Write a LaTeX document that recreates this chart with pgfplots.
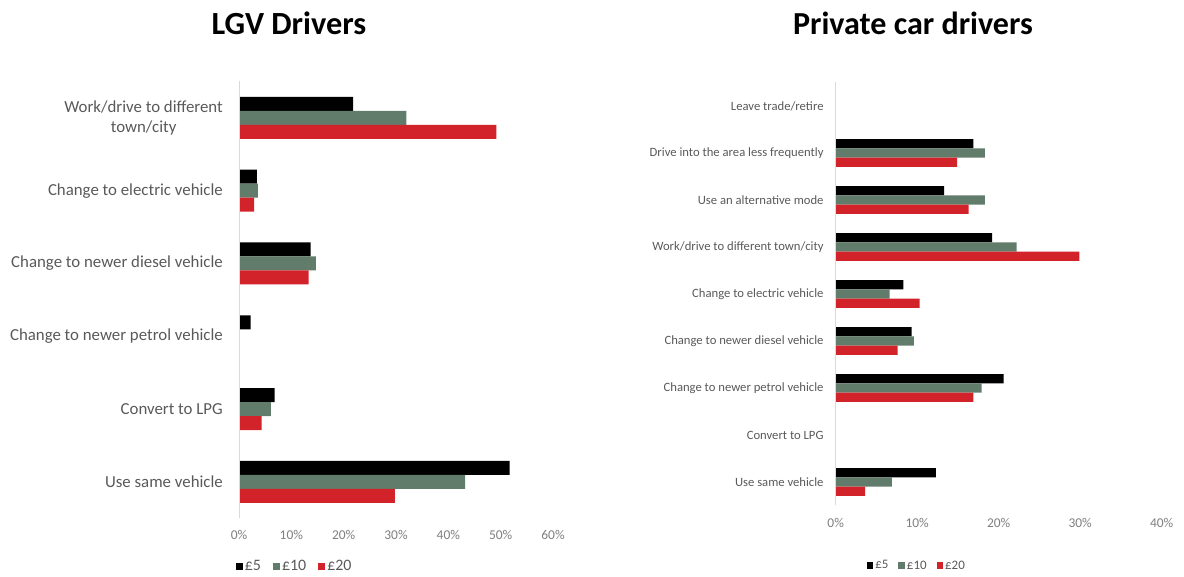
\documentclass[border=0pt]{standalone}
\usepackage{pgfplots}
\pgfplotsset{compat=1.18}
\usepackage{fontspec}
\setmainfont{Carlito}
\definecolor{cblack}{HTML}{000000}
\definecolor{cgray}{HTML}{627C6C}
\definecolor{cred}{HTML}{D2232A}
\definecolor{labgray}{HTML}{595959}
\definecolor{tickgray}{HTML}{7F7F7F}
\definecolor{axgray}{HTML}{D9D9D9}
\pgfplotsset{
  hb/.style={
    scale only axis, xbar, y dir=reverse,
    axis line style={draw=none},
    major tick length=0pt,
    /pgf/number format/assume math mode=true,
    xticklabel={\pgfmathprintnumber{\tick}\%},
    xticklabel style={font=\fontsize{13.5}{15}\selectfont, text=tickgray, anchor=center, yshift=-17bp},
    yticklabel style={text=labgray, anchor=east, align=center, inner sep=0pt},
    ytick={0,1,...,10},
    extra description/.code={\draw[axgray, line width=1bp] (rel axis cs:0,0) -- (rel axis cs:0,1);},
    legend image code/.code={\fill[##1] (0bp,-3.5bp) rectangle (7bp,3.5bp);},
    legend style={draw=none, fill=none, legend columns=3, inner sep=0pt,
      text=labgray},
    legend cell align=left,
  }
}
\begin{document}
\begin{tikzpicture}[x=1bp,y=1bp]
\path[use as bounding box] (0,0) rectangle (1184,577);
\node[font=\fontsize{32.4}{36}\selectfont\bfseries] at (289,554) {LGV Drivers};
\node[font=\fontsize{32.2}{36}\selectfont\bfseries] at (913,554) {Private car drivers};

\begin{axis}[hb,
  at={(239bp,58.6bp)}, anchor=south west, width=314bp, height=437bp,
  xmin=0, xmax=60, ymin=-0.5, ymax=5.5,
  xtick={0,10,...,60},
  yticklabels={Work/drive to different\\town/city, Change to electric vehicle, Change to newer diesel vehicle, Change to newer petrol vehicle, Convert to LPG, Use same vehicle},
  yticklabel style={font=\fontsize{16.9}{20}\selectfont, xshift=-16bp},
  legend style={at={(-0.0105,-0.109)}, anchor=west, font=\fontsize{16}{18}\selectfont,
    /tikz/every even column/.append style={column sep=10bp}},
  bar width=14bp,
]
\addplot[fill=cblack, draw=none, bar shift=14bp] coordinates {(21.8,0) (3.4,1) (13.7,2) (2.2,3) (6.8,4) (51.7,5)};
\addplot[fill=cgray, draw=none, bar shift=0bp] coordinates {(32.0,0) (3.6,1) (14.7,2) (0,3) (6.1,4) (43.2,5)};
\addplot[fill=cred, draw=none, bar shift=-14bp] coordinates {(49.2,0) (2.9,1) (13.3,2) (0,3) (4.3,4) (29.8,5)};
\legend{£5, £10, £20}
\end{axis}

\begin{axis}[hb,
  at={(835.7bp,71.5bp)}, anchor=south west, width=326bp, height=423bp,
  xmin=0, xmax=40, ymin=-0.5, ymax=8.5,
  xtick={0,10,...,40},
  yticklabels={Leave trade/retire, Drive into the area less frequently, Use an alternative mode, Work/drive to different town/city, Change to electric vehicle, Change to newer diesel vehicle, Change to newer petrol vehicle, Convert to LPG, Use same vehicle},
  yticklabel style={font=\fontsize{12.7}{15}\selectfont, xshift=-12bp},
  legend style={at={(0.095,-0.142)}, anchor=west, font=\fontsize{13}{15}\selectfont,
    /tikz/every even column/.append style={column sep=8bp}},
  legend image code/.code={\fill[#1] (0bp,-3.25bp) rectangle (6.5bp,3.25bp);},
  bar width=9.3bp,
]
\addplot[fill=cblack, draw=none, bar shift=9.3bp] coordinates {(0,0) (16.9,1) (13.3,2) (19.2,3) (8.3,4) (9.3,5) (20.6,6) (0,7) (12.3,8)};
\addplot[fill=cgray, draw=none, bar shift=0bp] coordinates {(0,0) (18.3,1) (18.3,2) (22.2,3) (6.6,4) (9.6,5) (17.9,6) (0,7) (6.9,8)};
\addplot[fill=cred, draw=none, bar shift=-9.3bp] coordinates {(0,0) (14.9,1) (16.3,2) (29.9,3) (10.3,4) (7.6,5) (16.9,6) (0,7) (3.6,8)};
\legend{£5, £10, £20}
\end{axis}
\end{tikzpicture}
\end{document}
